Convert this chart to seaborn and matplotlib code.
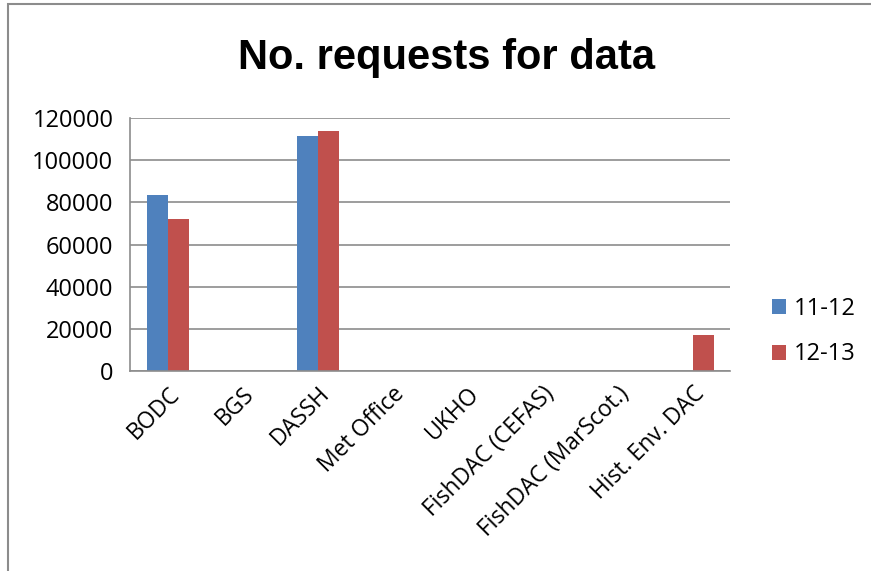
import numpy as np
import pandas as pd
import matplotlib
matplotlib.use("Agg")
import matplotlib.pyplot as plt
import seaborn as sns
from matplotlib.patches import Rectangle

categories = ["BODC", "BGS", "DASSH", "Met Office", "UKHO",
              "FishDAC (CEFAS)", "FishDAC (MarScot.)", "Hist. Env. DAC"]
requests_11_12 = [83500, 0, 111500, 0, 0, 0, 0, 0]
requests_12_13 = [72300, 0, 113800, 0, 0, 0, 0, 17300]
series = ["11-12", "12-13"]

df = pd.DataFrame({
    "source": categories * 2,
    "year": [series[0]] * len(categories) + [series[1]] * len(categories),
    "requests": requests_11_12 + requests_12_13,
})

sns.set_style("white")
plt.rcParams["font.family"] = ["Open Sans", "DejaVu Sans"]
plt.rcParams["text.color"] = "black"
plt.rcParams["xtick.labelcolor"] = "black"
plt.rcParams["ytick.labelcolor"] = "black"

fig = plt.figure(figsize=(8.71, 5.71), dpi=100)
ax = fig.add_axes([130 / 871, 1 - 371 / 571, 600 / 871, 253 / 571])

sns.barplot(data=df, x="source", y="requests", hue="year", order=categories,
            palette=["#4F81BD", "#C0504D"], width=0.56, saturation=1,
            linewidth=0, ax=ax, legend=True)

ax.set_ylim(0, 120000)
ax.set_xlim(-0.5, len(categories) - 0.5)
ax.set_yticks(np.arange(0, 120001, 20000))
ax.set_yticklabels([str(v) for v in range(0, 120001, 20000)], fontsize=17)
ax.yaxis.grid(True, color="#8c8c8c", linewidth=1.2)
ax.set_axisbelow(True)
ax.set_xlabel("")
ax.set_ylabel("")

ax.set_xticks(range(len(categories)))
ax.set_xticklabels(categories, rotation=45, ha="right", rotation_mode="anchor", fontsize=16.5)
ax.set_xticks(np.arange(-0.5, len(categories)), minor=True)
ax.tick_params(axis="x", which="major", length=0, pad=8)
ax.tick_params(axis="x", which="minor", length=7, color="#8c8c8c", width=1.2, direction="out")
ax.tick_params(axis="y", length=6, color="#8c8c8c", width=1.2, direction="out", pad=6)

for side in ["top", "right"]:
    ax.spines[side].set_visible(False)
for side in ["left", "bottom"]:
    ax.spines[side].set_color("#8c8c8c")
    ax.spines[side].set_linewidth(1.2)

ax.legend(loc="center left", bbox_to_anchor=(1.035, 0.155), frameon=False,
          fontsize=17, handlelength=0.6, handleheight=0.6, handletextpad=0.3,
          labelspacing=0.9)

fig.text(0.513, 0.898, "No. requests for data", ha="center", va="center",
         fontsize=30, fontweight="bold", family=["Liberation Sans", "DejaVu Sans"])

fig.patches.append(Rectangle((8 / 871, -0.01), 1.0, 1 - 4 / 571 + 0.01,
                             transform=fig.transFigure, fill=False,
                             edgecolor="#8c8c8c", linewidth=1.5))

fig.savefig("out.png", dpi=100)
